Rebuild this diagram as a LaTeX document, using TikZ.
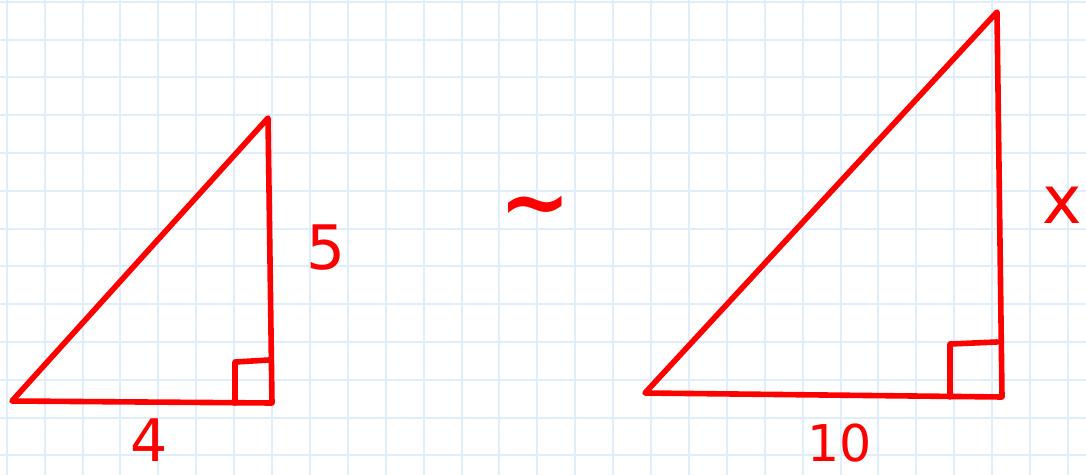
\documentclass[tikz,border=0pt]{standalone}
\usepackage{fontspec}
\setmainfont{DejaVu Sans}
\definecolor{gridblue}{RGB}{224,238,252}
\definecolor{pen}{RGB}{255,0,0}

\begin{document}
\begin{tikzpicture}[x=0.75pt, y=-0.75pt,
    ink/.style={pen, line width=4.2pt, line cap=round, line join=round},
    hand/.style={text=pen, inner sep=0pt, font=\fontsize{46}{46}\selectfont}]
    \useasboundingbox[fill=white] (0,0) rectangle (1086,475);
    % Grid paper
    \foreach \i in {0,...,12}
        \draw[gridblue, line width=1.5pt] (0,1.7+37.8*\i) -- (1086,1.7+37.8*\i);
    \foreach \i in {0,...,28}
        \draw[gridblue, line width=1.5pt] (6.7+37.9*\i,0) -- (6.7+37.9*\i,475);
    % Small triangle
    \coordinate (A1) at (12,401);
    \coordinate (B1) at (272,403);
    \coordinate (C1) at (268,118);
    \coordinate (S1) at (235,403);
    \coordinate (T1) at (235,362);
    \coordinate (U1) at (269,360);
    \draw[ink] (A1) -- (B1) -- (C1) -- cycle;
    \draw[ink] (S1) -- (T1) -- (U1);
    \node[hand, font=\fontsize{44}{44}\selectfont] (four) at (149,440) {4};
    \node[hand] (five) at (326,248) {5};
    % Similar sign
    \node[hand, font=\bfseries\fontsize{64}{64}\selectfont] (sim) at (535,214) {\textasciitilde};
    % Large triangle
    \coordinate (A2) at (645,393);
    \coordinate (B2) at (1002,397);
    \coordinate (C2) at (997,12);
    \coordinate (S2) at (950,397);
    \coordinate (T2) at (950,344);
    \coordinate (U2) at (997,342);
    \draw[ink] (A2) -- (B2) -- (C2) -- cycle;
    \draw[ink] (S2) -- (T2) -- (U2);
    \node[hand, font=\fontsize{38}{38}\selectfont] (ten) at (840,443) {10};
    \node[hand, font=\fontsize{50}{50}\selectfont] (side) at (1062,205) {x};
\end{tikzpicture}
\end{document}
